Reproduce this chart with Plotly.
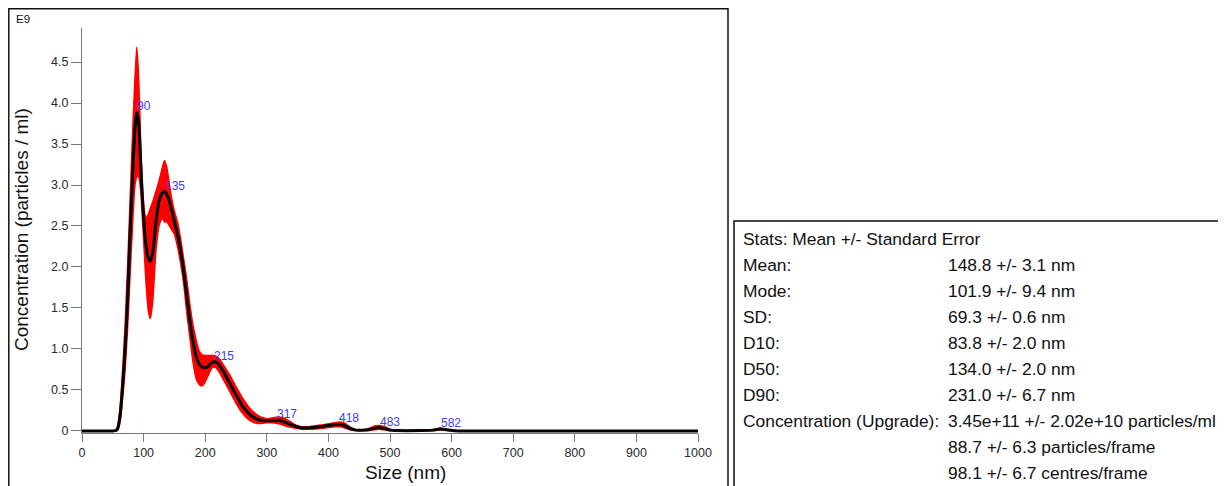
import plotly.graph_objects as go

# ---- data ----
size_nm = [0, 50, 55, 58, 62, 66, 70, 74, 78, 82,
           86, 89, 92, 95, 98, 101, 104, 108, 111, 115,
           120, 125, 130, 134, 138, 142, 146, 150, 155, 160,
           165, 170, 175, 180, 185, 190, 195, 200, 205, 210,
           215, 220, 225, 230, 240, 250, 260, 270, 280, 290,
           300, 310, 317, 325, 335, 345, 355, 365, 380, 395,
           410, 418, 425, 435, 445, 455, 465, 475, 483, 492,
           500, 510, 550, 570, 582, 592, 605, 620, 1000]

conc_mean = [0, 0, 0.005, 0.03, 0.2, 0.55, 1.0, 1.6, 2.4, 3.1,
             3.7, 3.89, 3.75, 3.3, 2.85, 2.5, 2.25, 2.1, 2.07, 2.18,
             2.55, 2.8, 2.9, 2.92, 2.88, 2.8, 2.68, 2.55, 2.4, 2.2,
             1.95, 1.65, 1.35, 1.1, 0.92, 0.82, 0.78, 0.77, 0.79, 0.83,
             0.845, 0.83, 0.78, 0.72, 0.58, 0.44, 0.31, 0.22, 0.16, 0.13,
             0.125, 0.125, 0.13, 0.12, 0.09, 0.06, 0.04, 0.035, 0.045, 0.06,
             0.075, 0.08, 0.07, 0.03, 0.01, 0.01, 0.015, 0.035, 0.04, 0.03,
             0.01, 0.005, 0.005, 0.01, 0.025, 0.015, 0.003, 0, 0]

conc_upper = [0, 0, 0.01, 0.06, 0.3, 0.75, 1.3, 2.0, 2.8, 3.6,
              4.3, 4.68, 4.3, 3.6, 3.0, 2.7, 2.6, 2.65, 2.72, 2.8,
              2.92, 3.05, 3.2, 3.3, 3.2, 3.0, 2.82, 2.68, 2.55, 2.35,
              2.1, 1.85, 1.55, 1.3, 1.12, 0.98, 0.93, 0.92, 0.92, 0.92,
              0.92, 0.9, 0.86, 0.8, 0.68, 0.54, 0.41, 0.3, 0.22, 0.17,
              0.15, 0.16, 0.17, 0.165, 0.13, 0.08, 0.05, 0.05, 0.065, 0.08,
              0.1, 0.11, 0.1, 0.05, 0.015, 0.012, 0.03, 0.06, 0.065, 0.05,
              0.02, 0.008, 0.008, 0.015, 0.035, 0.02, 0.005, 0, 0]

conc_lower = [0, 0, 0, 0.01, 0.12, 0.4, 0.75, 1.25, 1.9, 2.5,
              3.0, 3.1, 3.1, 2.95, 2.6, 2.2, 1.8, 1.45, 1.37, 1.6,
              2.2, 2.5, 2.6, 2.55, 2.55, 2.5, 2.45, 2.4, 2.25, 2.05,
              1.8, 1.45, 1.15, 0.85, 0.65, 0.57, 0.55, 0.6, 0.68, 0.76,
              0.78, 0.75, 0.69, 0.62, 0.48, 0.34, 0.22, 0.14, 0.1, 0.09,
              0.1, 0.1, 0.09, 0.075, 0.05, 0.035, 0.025, 0.02, 0.025, 0.035,
              0.05, 0.05, 0.04, 0.015, 0.005, 0.008, 0.005, 0.015, 0.02, 0.012,
              0.004, 0.002, 0.002, 0.005, 0.015, 0.008, 0, 0, 0]

peak_x = [90, 135, 215, 317, 418, 483, 582]
peak_y = [3.89, 2.92, 0.845, 0.13, 0.08, 0.04, 0.025]
peak_labels = ["90", "135", "215", "317", "418", "483", "582"]

x_ticks = [0, 100, 200, 300, 400, 500, 600, 700, 800, 900, 1000]
y_ticks = [0, 0.5, 1.0, 1.5, 2.0, 2.5, 3.0, 3.5, 4.0, 4.5]
y_tick_text = ["0", "0.5", "1.0", "1.5", "2.0", "2.5", "3.0", "3.5", "4.0", "4.5"]

stats_labels = ["Mean:", "Mode:", "SD:", "D10:", "D50:", "D90:",
                "Concentration (Upgrade):", "", ""]
stats_values = ["148.8 +/- 3.1 nm", "101.9 +/- 9.4 nm", "69.3 +/- 0.6 nm",
                "83.8 +/- 2.0 nm", "134.0 +/- 2.0 nm", "231.0 +/- 6.7 nm",
                "3.45e+11 +/- 2.02e+10 particles/ml",
                "88.7 +/- 6.3 particles/frame", "98.1 +/- 6.7 centres/frame"]

# page is 1226x486; the html body adds an 8px margin, so the figure is offset
PAGE_W, PAGE_H = 1226, 486
OX, OY = 8, 8
W, H = PAGE_W - OX, PAGE_H - OY
FONT = "Liberation Sans, Arial, Helvetica, sans-serif"

def px_x(p):
    return (p - OX) / W

def px_y(p):
    return 1 - (p - OY) / H

fig = go.Figure()

fig.add_trace(go.Scatter(x=size_nm, y=conc_lower, mode="lines",
                         line=dict(color="#ff0000", width=1.5, shape="spline", smoothing=0.6),
                         hoverinfo="skip", showlegend=False))
fig.add_trace(go.Scatter(x=size_nm, y=conc_upper, mode="lines", fill="tonexty",
                         fillcolor="#ff0000",
                         line=dict(color="#ff0000", width=1.5, shape="spline", smoothing=0.6),
                         hoverinfo="skip", showlegend=False))
fig.add_trace(go.Scatter(x=size_nm, y=conc_mean, mode="lines",
                         line=dict(color="#000000", width=3, shape="spline", smoothing=0.6),
                         showlegend=False))

# peak labels
for px_, py_, lab in zip(peak_x, peak_y, peak_labels):
    fig.add_annotation(x=px_, y=py_, text=lab, showarrow=False,
                       xanchor="left", yanchor="bottom", xshift=-2, yshift=-3,
                       font=dict(family=FONT, size=12, color="#3b3bff"))

# plot area on the page: x 82..698 px, y 28..433 px
fig.update_layout(
    width=W, height=H,
    margin=dict(l=0, r=0, t=0, b=0),
    paper_bgcolor="white", plot_bgcolor="white",
    font=dict(family=FONT, color="#333333"),
    xaxis=dict(domain=[px_x(82), px_x(698)], range=[0, 1000], automargin=False,
               tickvals=x_ticks, ticktext=[str(v) for v in x_ticks],
               ticks="outside", ticklen=8, tickcolor="#777777", tickwidth=1,
               showline=True, linecolor="#777777", linewidth=1,
               showgrid=False, zeroline=False,
               tickfont=dict(size=12.5, color="#2a2a2a")),
    yaxis=dict(domain=[px_y(433), px_y(28)], range=[-0.025, 4.915], automargin=False,
               tickvals=y_ticks, ticktext=y_tick_text,
               ticks="outside", ticklen=10, tickcolor="#777777", tickwidth=1,
               showline=True, linecolor="#777777", linewidth=1,
               showgrid=False, zeroline=False,
               tickfont=dict(size=12.5, color="#2a2a2a")),
)

# axis titles and E9 marker
fig.add_annotation(xref="paper", yref="paper", x=px_x(22), y=px_y(230),
                   text="Concentration (particles / ml)", textangle=-90,
                   showarrow=False, xanchor="center", yanchor="middle",
                   font=dict(family=FONT, size=19, color="#111111"))
fig.add_annotation(xref="paper", yref="paper", x=px_x(405), y=px_y(472),
                   text="Size (nm)", showarrow=False,
                   xanchor="center", yanchor="middle",
                   font=dict(family=FONT, size=19, color="#111111"))
fig.add_annotation(xref="paper", yref="paper", x=px_x(14), y=px_y(19),
                   text="E9", showarrow=False, xanchor="left", yanchor="middle",
                   font=dict(family=FONT, size=11.5, color="#111111"))

# frames
fig.add_shape(type="rect", xref="paper", yref="paper",
              x0=px_x(8.8), x1=px_x(728), y0=px_y(495), y1=px_y(8.8),
              line=dict(color="#111111", width=1.5), fillcolor="rgba(0,0,0,0)")
fig.add_shape(type="rect", xref="paper", yref="paper",
              x0=px_x(734), x1=px_x(1235), y0=px_y(495), y1=px_y(221),
              line=dict(color="#111111", width=1.5), fillcolor="rgba(0,0,0,0)")

# stats text
STAT_FS = 17.4
fig.add_annotation(xref="paper", yref="paper", x=px_x(741), y=px_y(239),
                   text="Stats: Mean +/- Standard Error", showarrow=False,
                   xanchor="left", yanchor="middle",
                   font=dict(family=FONT, size=STAT_FS, color="#111111"))
for i, (lab, val) in enumerate(zip(stats_labels, stats_values)):
    yc = 265 + 26 * i
    if lab:
        fig.add_annotation(xref="paper", yref="paper", x=px_x(741), y=px_y(yc),
                           text=lab, showarrow=False, xanchor="left", yanchor="middle",
                           font=dict(family=FONT, size=STAT_FS, color="#111111"))
    fig.add_annotation(xref="paper", yref="paper", x=px_x(946), y=px_y(yc),
                       text=val, showarrow=False, xanchor="left", yanchor="middle",
                       font=dict(family=FONT, size=STAT_FS, color="#111111"))

fig.write_html("out.html")
